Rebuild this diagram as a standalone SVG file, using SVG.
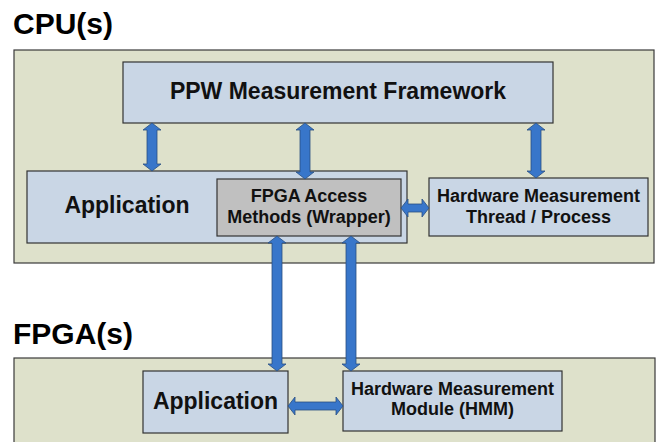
<svg xmlns="http://www.w3.org/2000/svg" width="663" height="442" viewBox="0 0 663 442">
<style>
.title{font-family:"Liberation Sans",Arial,sans-serif;font-weight:bold;font-size:30px;fill:#000}
.lbl{font-family:"Liberation Sans",Arial,sans-serif;font-weight:bold;fill:#111;text-anchor:middle}
.big{font-size:23px}
.sm{font-size:18px}
.outer{fill:#DEE1CB;stroke:#3a3a3a;stroke-width:1.2}
.box{fill:#C9D6E5;stroke:#333;stroke-width:1.2}
.gbox{fill:#C0C0C0;stroke:#333;stroke-width:1.2}
.arr{fill:#3876CA;stroke:#2a4f80;stroke-width:0.8}
</style>
<rect width="663" height="442" fill="#fff"/>
<text class="title" x="13" y="34">CPU(s)</text>
<rect class="outer" x="14" y="50" width="640" height="213"/>
<text class="title" x="13" y="344">FPGA(s)</text>
<rect class="outer" x="14" y="358" width="641" height="90"/>

<g id="ppw">
<rect class="box" x="123" y="62" width="430" height="61"/>
<text class="lbl big" x="338" y="99">PPW Measurement Framework</text>
</g>
<g id="cpu-app">
<rect class="box" x="27" y="171" width="380" height="72"/>
<text class="lbl big" x="127" y="213">Application</text>
</g>
<g id="wrapper">
<rect class="gbox" x="217" y="179" width="184" height="57"/>
<text class="lbl sm" x="309" y="202">FPGA Access</text>
<text class="lbl sm" x="309" y="223">Methods (Wrapper)</text>
</g>
<g id="hw-thread">
<rect class="box" x="429" y="178" width="219" height="58"/>
<text class="lbl sm" x="538.5" y="202">Hardware Measurement</text>
<text class="lbl sm" x="538.5" y="223">Thread / Process</text>
</g>
<g id="fpga-app">
<rect class="box" x="143" y="371" width="145" height="62"/>
<text class="lbl big" x="215.5" y="409">Application</text>
</g>
<g id="hmm">
<rect class="box" x="343" y="371" width="219" height="60"/>
<text class="lbl sm" x="452.5" y="395">Hardware Measurement</text>
<text class="lbl sm" x="452.5" y="415">Module (HMM)</text>
</g>

<g id="connectors">
<path class="arr" d="M152,123 L161,130 L157,130 L157,164 L161,164 L152,171 L143,164 L147,164 L147,130 L143,130 Z"/>
<path class="arr" d="M305,123 L314,130 L310,130 L310,172 L314,172 L305,179 L296,172 L300,172 L300,130 L296,130 Z"/>
<path class="arr" d="M536,123 L545,130 L541,130 L541,171 L545,171 L536,178 L527,171 L531,171 L531,130 L527,130 Z"/>
<path class="arr" d="M277,236 L286,243 L282,243 L282,364 L286,364 L277,371 L268,364 L272,364 L272,243 L268,243 Z"/>
<path class="arr" d="M351,236 L360,243 L356,243 L356,364 L360,364 L351,371 L342,364 L346,364 L346,243 L342,243 Z"/>
<path class="arr" d="M401,208 L408,199 L408,204 L422,204 L422,199 L429,208 L422,217 L422,212 L408,212 L408,217 Z"/>
<path class="arr" d="M288,406 L295,397 L295,402 L336,402 L336,397 L343,406 L336,415 L336,410 L295,410 L295,415 Z"/>
</g>
</svg>
